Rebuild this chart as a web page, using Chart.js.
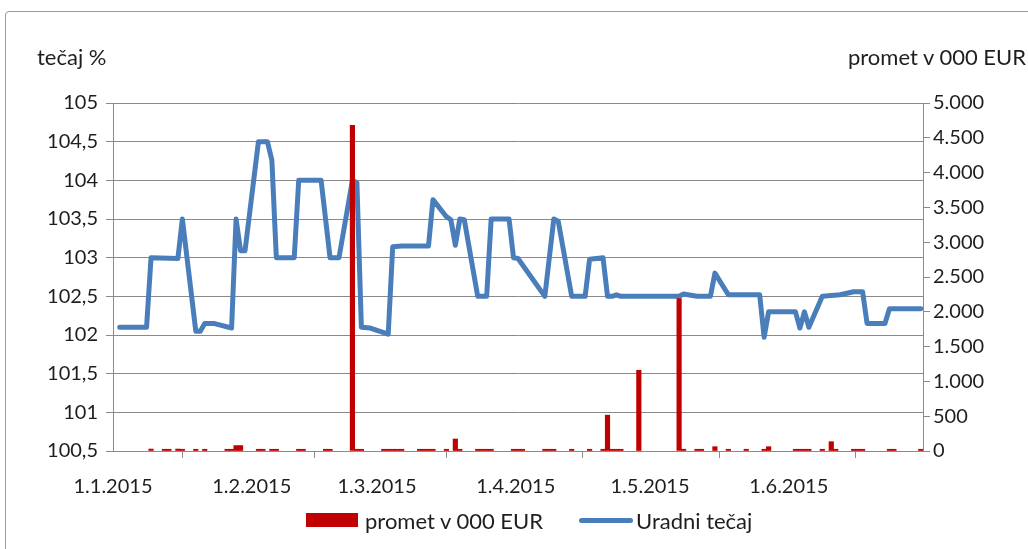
<!DOCTYPE html>
<html><head><meta charset="utf-8">
<script src="https://cdn.jsdelivr.net/npm/chart.js@4.4.1/dist/chart.umd.min.js"></script>
<style>
html,body{margin:0;padding:0;background:#fff;overflow:hidden;}
#wrap{position:relative;width:1028px;height:549px;overflow:hidden;}
#frame{position:absolute;left:5px;top:11px;width:1100px;height:700px;border:1px solid #9a9a9a;border-radius:4px;box-sizing:border-box;}
canvas{position:absolute;left:0;top:0;}
.t{position:absolute;font-family:Lato,"Open Sans",sans-serif;font-size:22px;color:#1e1e1e;white-space:nowrap;line-height:24px;}
#legend{position:absolute;left:306px;top:508px;height:24px;display:flex;align-items:center;font-family:Lato,sans-serif;font-size:22px;color:#1e1e1e;white-space:nowrap;}
#legend .item{display:flex;align-items:center;}
</style></head>
<body><div id="wrap"><div id="frame"></div><canvas id="c" width="1028" height="549"></canvas>
<div class="t" style="left:37px;top:45px">tečaj %</div>
<div class="t" style="right:2px;top:45px">promet v 000 EUR</div>
<div id="legend"></div>
</div>
<script>
// ---- data ----
const monthTickDates  = ['1.1.2015','1.2.2015','1.3.2015','1.4.2015','1.5.2015','1.6.2015','1.7.2015'];
const monthTickLabels = ['1.1.2015','1.2.2015','1.3.2015','1.4.2015','1.5.2015','1.6.2015',''];
const leftTickValues  = [100.5,101,101.5,102,102.5,103,103.5,104,104.5,105];
const leftTickLabels  = ['100,5','101','101,5','102','102,5','103','103,5','104','104,5','105'];
const rightTickValues = [0,500,1000,1500,2000,2500,3000,3500,4000,4500,5000];
const rightTickLabels = ['0','500','1.000','1.500','2.000','2.500','3.000','3.500','4.000','4.500','5.000'];

const rateDates = ['2.1.2015','8.1.2015','9.1.2015','15.1.2015','16.1.2015','19.1.2015','20.1.2015','21.1.2015','23.1.2015','27.1.2015','28.1.2015','29.1.2015','30.1.2015',
 '2.2.2015','4.2.2015','5.2.2015','6.2.2015','10.2.2015','11.2.2015','16.2.2015','18.2.2015','20.2.2015','23.2.2015','24.2.2015','25.2.2015','27.2.2015',
 '3.3.2015','4.3.2015','6.3.2015','12.3.2015','13.3.2015','16.3.2015','17.3.2015','18.3.2015','19.3.2015','20.3.2015','23.3.2015','25.3.2015','26.3.2015','30.3.2015','31.3.2015',
 '1.4.2015','7.4.2015','9.4.2015','10.4.2015','13.4.2015','16.4.2015','17.4.2015','20.4.2015','21.4.2015','22.4.2015','23.4.2015','24.4.2015',
 '7.5.2015','8.5.2015','11.5.2015','14.5.2015','15.5.2015','18.5.2015','25.5.2015','26.5.2015','27.5.2015',
 '2.6.2015','3.6.2015','4.6.2015','5.6.2015','8.6.2015','10.6.2015','12.6.2015','15.6.2015','17.6.2015','18.6.2015','22.6.2015','23.6.2015','30.6.2015'];
const rateValues = [102.1,102.1,103.0,102.99,103.5,102.05,102.05,102.15,102.15,102.09,103.5,103.09,103.09,
 104.5,104.5,104.26,103.0,103.0,104.0,104.0,103.0,103.0,104.0,103.97,102.1,102.09,
 102.01,103.14,103.15,103.15,103.75,103.53,103.49,103.16,103.5,103.49,102.5,102.5,103.5,103.5,103.0,
 102.99,102.5,103.5,103.47,102.5,102.5,102.98,103.0,102.5,102.5,102.52,102.5,
 102.5,102.53,102.5,102.5,102.8,102.52,102.52,101.97,102.3,
 102.3,102.09,102.3,102.1,102.5,102.51,102.52,102.56,102.56,102.15,102.15,102.34,102.34];

const turnoverDates = ['9.1.2015','12.1.2015','13.1.2015','15.1.2015','16.1.2015','19.1.2015','21.1.2015','26.1.2015','27.1.2015','28.1.2015','29.1.2015',
 '2.2.2015','3.2.2015','5.2.2015','6.2.2015','11.2.2015','12.2.2015','17.2.2015','18.2.2015','23.2.2015','24.2.2015','25.2.2015',
 '2.3.2015','3.3.2015','4.3.2015','5.3.2015','6.3.2015','10.3.2015','11.3.2015','12.3.2015','13.3.2015','16.3.2015','18.3.2015','19.3.2015',
 '23.3.2015','24.3.2015','25.3.2015','26.3.2015','31.3.2015',
 '1.4.2015','2.4.2015','7.4.2015','8.4.2015','9.4.2015','13.4.2015','17.4.2015','20.4.2015','21.4.2015','22.4.2015','23.4.2015','24.4.2015','28.4.2015',
 '7.5.2015','8.5.2015','11.5.2015','12.5.2015','15.5.2015','18.5.2015','22.5.2015','26.5.2015','27.5.2015',
 '2.6.2015','3.6.2015','4.6.2015','5.6.2015','8.6.2015','10.6.2015','11.6.2015','15.6.2015','16.6.2015','17.6.2015','23.6.2015','24.6.2015','30.6.2015'];
const turnoverValues = [28,25,25,28,25,25,25,25,25,78,78,
 25,25,25,25,25,25,25,25,4680,25,25,
 25,25,25,25,25,25,25,25,25,25,172,25,
 25,25,25,25,25,
 25,25,25,25,25,25,25,25,515,25,25,25,1160,
 2190,25,25,25,62,25,25,25,62,
 25,25,25,25,25,134,25,25,25,25,25,25,25];

// ---- helpers ----
function dayIndex(s){const p=s.split('.').map(Number);return (Date.UTC(p[2],p[1]-1,p[0])-Date.UTC(2015,0,1))/86400000;}
const FONT = {family:'Lato, "Open Sans", sans-serif', size:20};
const TXT = '#1e1e1e';
const GRID = '#8a8a8a';

const chart = new Chart(document.getElementById('c'), {
  type:'bar',
  data:{
    datasets:[
      {type:'bar', label:'promet v 000 EUR', yAxisID:'y1', xAxisID:'x', order:0,
       data: turnoverDates.map((d,i)=>({x:dayIndex(d)+0.5, y:turnoverValues[i]})),
       backgroundColor:'#c00000', borderWidth:0, barThickness:4.5},
      {type:'line', label:'Uradni tečaj', yAxisID:'y', xAxisID:'x', order:1,
       data: rateDates.map((d,i)=>({x:dayIndex(d)+0.5, y:rateValues[i]})),
       borderColor:'#4a7ebb', backgroundColor:'#4a7ebb', borderWidth:5, pointRadius:0, tension:0,
       borderJoinStyle:'round', borderCapStyle:'round', fill:false}
    ]
  },
  options:{
    responsive:false, animation:false,
    layout:{padding:{top:103,left:0,right:0,bottom:0}},
    plugins:{legend:{display:false}, tooltip:{enabled:false}},
    scales:{
      x:{type:'linear', min:0, max:181, offset:false,
        afterBuildTicks:s=>{s.ticks=monthTickDates.map(d=>({value:dayIndex(d)}));},
        ticks:{autoSkip:false, maxRotation:0, minRotation:0, padding:17, font:FONT, color:TXT,
               callback:(v,i)=>monthTickLabels[i]},
        grid:{drawOnChartArea:false, drawTicks:true, tickLength:7, color:GRID, lineWidth:1},
        border:{display:true, color:GRID, width:1},
        afterFit:s=>{s.height=98;}
      },
      y:{position:'left', min:100.5, max:105,
        afterBuildTicks:s=>{s.ticks=leftTickValues.map(v=>({value:v}));},
        ticks:{padding:8, font:FONT, color:TXT, callback:(v,i)=>leftTickLabels[i]},
        grid:{color:GRID, lineWidth:1, tickLength:7, drawTicks:true},
        border:{display:true, color:GRID, width:1},
        afterFit:s=>{s.width=113;}
      },
      y1:{position:'right', min:0, max:5000,
        afterBuildTicks:s=>{s.ticks=rightTickValues.map(v=>({value:v}));},
        ticks:{padding:3, font:FONT, color:TXT, callback:(v,i)=>rightTickLabels[i]},
        grid:{drawOnChartArea:false, tickLength:7, drawTicks:true, color:GRID, lineWidth:1},
        border:{display:true, color:GRID, width:1},
        afterFit:s=>{s.width=105;}
      }
    }
  }
});

// HTML legend built from the chart's datasets
const leg = document.getElementById('legend');
chart.data.datasets.forEach((ds,i)=>{
  const it = document.createElement('div'); it.className='item';
  const sw = document.createElement('span');
  if(ds.type==='bar'){ sw.style.cssText='display:inline-block;width:52px;height:14px;margin-right:7px;background:'+ds.backgroundColor; }
  else { sw.style.cssText='display:inline-block;width:54px;height:5px;border-radius:3px;margin-right:3px;background:'+ds.borderColor; }
  const tx = document.createElement('span'); tx.textContent = ds.label;
  it.appendChild(sw); it.appendChild(tx);
  if(i===0) it.style.marginRight='36px';
  leg.appendChild(it);
});
</script>
</body></html>
